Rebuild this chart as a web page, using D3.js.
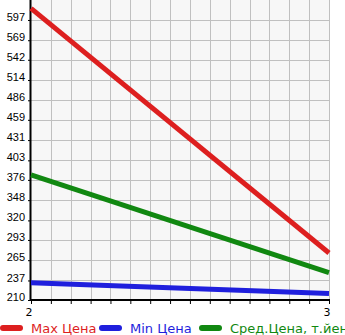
<!DOCTYPE html>
<html>
<head>
<meta charset="utf-8">
<script src="https://cdn.jsdelivr.net/npm/d3@7"></script>
<style>
  body { margin: 0; background: #fff; }
  svg { display: block; font-family: "DejaVu Sans", sans-serif; }
</style>
</head>
<body>
<div id="plot"></div>
<script>
const xLabels = [2, 3];
const yTicks = [210, 237, 265, 293, 320, 348, 376, 403, 431, 459, 486, 514, 542, 569, 597];
const maxPrice = [613, 275];
const minPrice = [234, 219];
const avgPrice = [383, 248];
const seriesNames = ["Max Цена", "Min Цена", "Сред.Цена, т.йен"];
const seriesColors = ["#dd1f1f", "#1f1fdd", "#118811"];

const W = 345, H = 335;
const margin = { top: 0, left: 31, right: 15, bottom: 35 };
const width = W - margin.left - margin.right;
const height = H - margin.top - margin.bottom;

const svg = d3.select("#plot").append("svg")
  .attr("width", W).attr("height", H);

const g = svg.append("g").attr("transform", `translate(${margin.left},${margin.top})`);

const xScale = d3.scaleLinear().domain([2, 3]).range([0, width - 1]);
const yScale = d3.scaleLinear().domain([210, 210 + 15 * 27.64]).range([height, 0]);

g.append("rect").attr("width", width).attr("height", height).attr("fill", "#f7f7f7");

// grid
const xGrid = d3.range(0, 16).map(i => 2 + i / 15);
g.selectAll(".vg").data(xGrid.slice(1)).enter().append("line")
  .attr("x1", d => Math.round(xScale(d)) + 0.5).attr("x2", d => Math.round(xScale(d)) + 0.5)
  .attr("y1", 0).attr("y2", height)
  .attr("stroke", "#c0c0c0").attr("stroke-width", 1);
g.selectAll(".hg").data(yTicks.slice(1)).enter().append("line")
  .attr("x1", 0).attr("x2", width)
  .attr("y1", d => Math.round(yScale(d)) + 0.5).attr("y2", d => Math.round(yScale(d)) + 0.5)
  .attr("stroke", "#c0c0c0").attr("stroke-width", 1);

// axes
const yAxis = g.append("g")
  .call(d3.axisLeft(yScale).tickValues(yTicks).tickSize(3).tickFormat(d3.format("d")));
yAxis.select(".domain").remove();
yAxis.selectAll("text").attr("font-size", 11).attr("fill", "#000").attr("x", -6).attr("dy", "0.05em");

const xAxis = g.append("g").attr("transform", `translate(0,${height})`)
  .call(d3.axisBottom(xScale).tickValues(xGrid).tickSize(4).tickFormat(""));
xAxis.select(".domain").remove();
g.append("g").selectAll("text").data(xLabels).enter().append("text")
  .attr("x", d => xScale(d) - 2).attr("y", height + 16)
  .attr("text-anchor", "middle").attr("font-size", 11).text(d => d);

g.append("line").attr("x1", -0.5).attr("x2", -0.5).attr("y1", 0).attr("y2", height + 1)
  .attr("stroke", "#000").attr("stroke-width", 2);
g.append("line").attr("x1", -1).attr("x2", width).attr("y1", height).attr("y2", height)
  .attr("stroke", "#000").attr("stroke-width", 2);

// lines
const line = d3.line().x((d, i) => xScale(xLabels[i])).y(d => yScale(d));
[maxPrice, minPrice, avgPrice].forEach((s, i) => {
  g.append("path").datum(s)
    .attr("fill", "none").attr("stroke", seriesColors[i])
    .attr("stroke-width", 5).attr("d", line);
});

// legend
const legendX = [0, 99, 199];
const legend = svg.append("g").attr("transform", "translate(0,328)");
seriesNames.forEach((name, i) => {
  legend.append("line").attr("x1", legendX[i] + 3).attr("x2", legendX[i] + 20)
    .attr("stroke", seriesColors[i]).attr("stroke-width", 6).attr("stroke-linecap", "round");
  legend.append("text").attr("x", legendX[i] + 31).attr("y", 5)
    .attr("font-size", 13).attr("fill", seriesColors[i]).text(name);
});
</script>
</body>
</html>
